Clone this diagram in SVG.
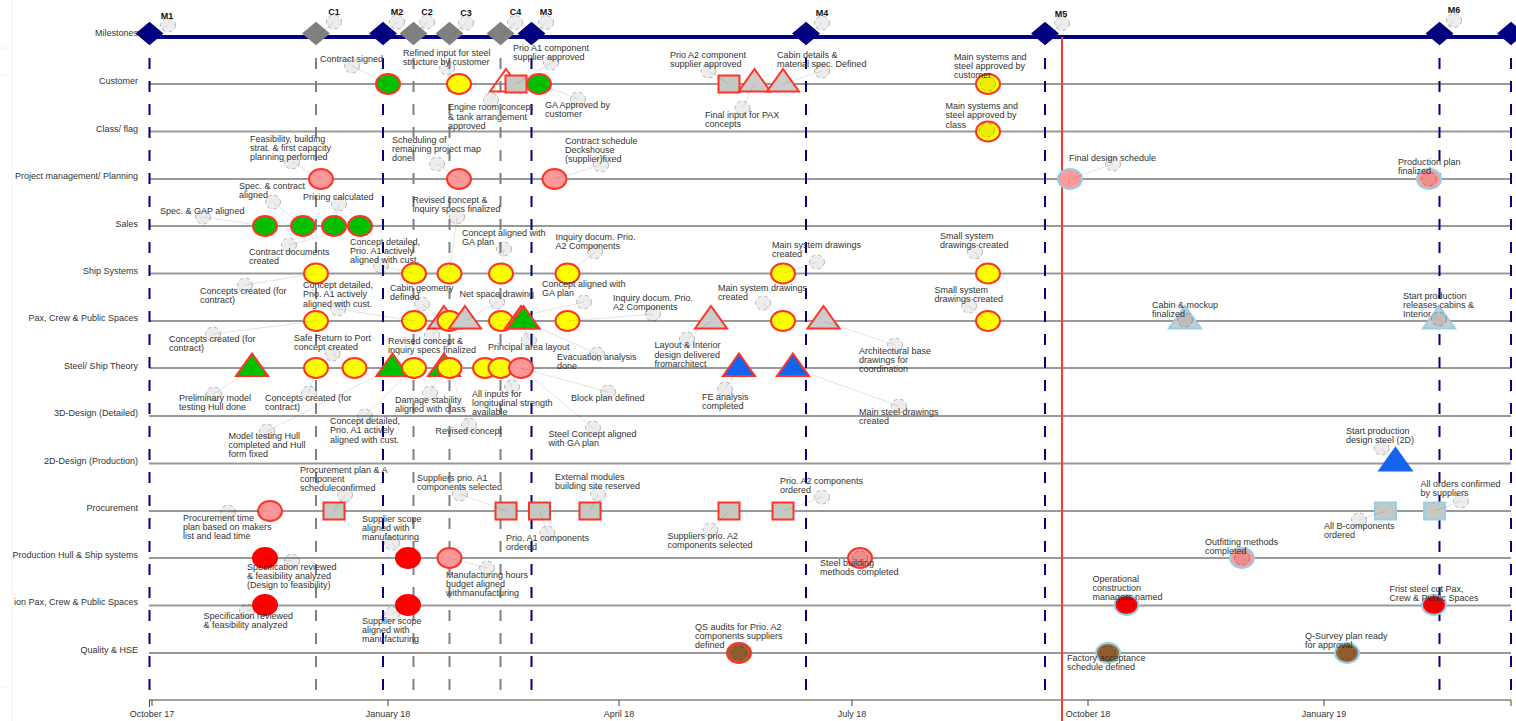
<svg xmlns="http://www.w3.org/2000/svg" width="1516" height="721" viewBox="0 0 1516 721">
<style>
text{font-family:"Liberation Sans",Arial,sans-serif;font-size:9px;fill:#333}
.row{text-anchor:end}
.ms{font-weight:bold;fill:#111;text-anchor:middle}
.ax{text-anchor:middle}
.rl{stroke:#999;stroke-width:2;fill:none}
.vn{stroke:#000080;stroke-width:2;stroke-dasharray:11 12;fill:none}
.vg{stroke:#808080;stroke-width:2;stroke-dasharray:11 12;fill:none}
.ld{stroke:#000;stroke-opacity:.11;stroke-width:1;fill:none}
.co{fill:#000;fill-opacity:.07;stroke:#000;stroke-opacity:.25;stroke-width:1;stroke-dasharray:4 3}
.r{stroke:#ff3328;stroke-width:2}
.b{stroke:#96cfe8;stroke-width:2}
.gr{fill:#00c000}.ye{fill:#ffff00}.pk{fill:#ff9999}.rd{fill:#ff0000}.br{fill:#996633}
.sq{fill:#c5c9c1}.tg{fill:#cccccc}.bl{fill:#1464f0}.no{fill:none}
.dn{fill:#000080}.dg{fill:#808080}
</style>
<defs>
<ellipse id="e" rx="12" ry="10"/>
<rect id="s" x="-10.5" y="-8.5" width="21" height="17"/>
<path id="t" d="M0-15 16 7.5H-16Z"/>
<path id="d" d="M0-11.8 14 0 0 11.8-14 0Z"/>
<ellipse id="c" rx="7.5" ry="7"/>
</defs>

<g id="background-marks" stroke="#f2f2f2" stroke-width="1" fill="none">
<path d="M12 0V721M0 48H7M0 75H7M0 687H7"/>
</g>

<g id="row-labels">
<text class="row" x="138" y="36">Milestones</text>
<text class="row" x="138" y="84">Customer</text>
<text class="row" x="138" y="132">Class/ flag</text>
<text class="row" x="138" y="179">Project management/ Planning</text>
<text class="row" x="138" y="226.500">Sales</text>
<text class="row" x="138" y="274">Ship Systems</text>
<text class="row" x="138" y="321">Pax, Crew &amp; Public Spaces</text>
<text class="row" x="138" y="369">Steel/ Ship Theory</text>
<text class="row" x="138" y="416">3D-Design (Detailed)</text>
<text class="row" x="138" y="464">2D-Design (Production)</text>
<text class="row" x="138" y="511">Procurement</text>
<text class="row" x="138" y="558">Production Hull &amp; Ship systems</text>
<text class="row" x="138" y="605">ion Pax, Crew &amp; Public Spaces</text>
<text class="row" x="138" y="653">Quality &amp; HSE</text>
</g>

<g id="swimlanes">
<path class="rl" d="M149 84H1511M149 131.500H1511M149 179H1511M149 226H1511M149 273.500H1511M149 321H1511M149 368H1511M149 416H1511M149 463.500H1511M149 511H1511M149 558H1511M149 605.500H1511M149 653H1511"/>
</g>

<g id="timeline-axis">
<path d="M149 700H1511M149.500 700V707M152 700V706M388 700V706M619 700V706M852 700V706M1088 700V706M1324 700V706M1511 700V706" stroke="#444" stroke-width="1" fill="none"/>
<text class="ax" x="152" y="717">October 17</text>
<text class="ax" x="388" y="717">January 18</text>
<text class="ax" x="619" y="717">April 18</text>
<text class="ax" x="852" y="717">July 18</text>
<text class="ax" x="1088" y="717">October 18</text>
<text class="ax" x="1324" y="717">January 19</text>
</g>

<g id="milestone-gates">
<path class="vn" d="M149.500 58V700M383 58V700M531.500 58V700M806 58V700M1045 58V700M1439.500 58V700M1511 58V700"/>
<path class="vg" d="M316 58V700M413.500 58V700M449.500 58V700M500.500 58V700"/>
<path d="M149 37H1516" stroke="#000080" stroke-width="4" fill="none"/>
<path d="M1062 37V721" stroke="#ff3b30" stroke-width="2" fill="none"/>
</g>

<g id="nodes">
<g id="m1"><use href="#d" x="149.500" y="33.500" class="dn"/><use href="#c" x="168" y="25" class="co"/><text class="ms" x="167" y="19">M1</text></g>
<g id="c1"><use href="#d" x="316" y="33.500" class="dg"/><use href="#c" x="334" y="22" class="co"/><text class="ms" x="334" y="15">C1</text></g>
<g id="m2"><use href="#d" x="383" y="33.500" class="dn"/><use href="#c" x="397" y="22" class="co"/><text class="ms" x="397" y="15">M2</text></g>
<g id="c2"><use href="#d" x="413.500" y="33.500" class="dg"/><use href="#c" x="427" y="22" class="co"/><text class="ms" x="427" y="15">C2</text></g>
<g id="c3"><use href="#d" x="449.500" y="33.500" class="dg"/><use href="#c" x="466" y="23" class="co"/><text class="ms" x="466" y="16">C3</text></g>
<g id="c4"><use href="#d" x="500.500" y="33.500" class="dg"/><use href="#c" x="515" y="22.500" class="co"/><text class="ms" x="515.500" y="15">C4</text></g>
<g id="m3"><use href="#d" x="531.500" y="33.500" class="dn"/><use href="#c" x="546" y="22.500" class="co"/><text class="ms" x="546" y="15">M3</text></g>
<g id="m4"><use href="#d" x="806" y="33.500" class="dn"/><use href="#c" x="822" y="23" class="co"/><text class="ms" x="822" y="16">M4</text></g>
<g id="m5"><use href="#d" x="1045" y="33.500" class="dn"/><use href="#c" x="1062" y="23.500" class="co"/><text class="ms" x="1061" y="17">M5</text></g>
<g id="m6"><use href="#d" x="1439.500" y="33.500" class="dn"/><use href="#c" x="1454" y="20.500" class="co"/><text class="ms" x="1454" y="13">M6</text></g>
<g id="m7"><use href="#d" x="1511" y="33.500" class="dn"/></g>

<g id="n-contract-signed"><use href="#e" x="388" y="84" class="gr r"/><use href="#c" x="352" y="66" class="co"/><text x="320" y="62">Contract signed</text></g>
<g id="n-refined-input"><use href="#e" x="459" y="84" class="ye r"/><use href="#c" x="447" y="68" class="co"/><text x="403"><tspan x="403" y="56">Refined input for steel</tspan><tspan x="403" y="65">structure by customer</tspan></text></g>
<g id="n-engine-room"><use href="#t" x="506" y="84" class="no r"/><use href="#c" x="491" y="100" class="co"/><text><tspan x="448" y="110">Engine room concept</tspan><tspan x="448" y="119.500">&amp; tank arrangement</tspan><tspan x="448" y="128.500">approved</tspan></text></g>
<g id="n-prio-a1-supplier"><use href="#s" x="516" y="84" class="sq r"/><use href="#c" x="551" y="63" class="co"/><text><tspan x="513" y="51">Prio A1 component</tspan><tspan x="513" y="60">supplier approved</tspan></text></g>
<g id="n-ga-approved"><use href="#e" x="539" y="84" class="gr r"/><use href="#c" x="578" y="99" class="co"/><text><tspan x="545" y="108">GA Approved by</tspan><tspan x="545" y="117">customer</tspan></text></g>
<g id="n-prio-a2-supplier"><use href="#s" x="729" y="84" class="sq r"/><use href="#c" x="708.500" y="71" class="co"/><text><tspan x="670" y="58">Prio A2 component</tspan><tspan x="670" y="67">supplier approved</tspan></text></g>
<g id="n-final-input-pax"><use href="#t" x="754.500" y="84" class="tg r"/><use href="#c" x="742.500" y="108" class="co"/><text><tspan x="705" y="118">Final input for PAX</tspan><tspan x="705" y="127">concepts</tspan></text></g>
<g id="n-cabin-details"><use href="#t" x="783" y="84" class="tg r"/><use href="#c" x="822" y="71" class="co"/><text><tspan x="777" y="58">Cabin details &amp;</tspan><tspan x="777" y="67">material spec. Defined</tspan></text></g>
<g id="n-main-sys-customer"><use href="#e" x="988" y="84" class="ye r"/><use href="#c" x="988" y="84" class="co"/><text><tspan x="954" y="60">Main systems and</tspan><tspan x="954" y="69">steel approved by</tspan><tspan x="954" y="78">customer</tspan></text></g>
<g id="n-main-sys-class"><use href="#e" x="988" y="131.500" class="ye r"/><use href="#c" x="987" y="130" class="co"/><text><tspan x="945.500" y="109">Main systems and</tspan><tspan x="945.500" y="118">steel approved by</tspan><tspan x="945.500" y="127.500">class</tspan></text></g>

<g id="n-feasibility"><use href="#e" x="321" y="179" class="pk r"/><use href="#c" x="292" y="162" class="co"/><text><tspan x="250" y="142">Feasibility, building</tspan><tspan x="250" y="151">strat. &amp; first capacity</tspan><tspan x="250" y="160">planning performed</tspan></text></g>
<g id="n-scheduling"><use href="#e" x="459" y="179" class="pk r"/><use href="#c" x="437" y="164" class="co"/><text><tspan x="392" y="143">Scheduling of</tspan><tspan x="392" y="152">remaining project map</tspan><tspan x="392" y="161">done</tspan></text></g>
<g id="n-contract-schedule"><use href="#e" x="554.500" y="179" class="pk r"/><use href="#c" x="601" y="165" class="co"/><text><tspan x="565" y="144">Contract schedule</tspan><tspan x="565" y="153">Deckshouse</tspan><tspan x="565" y="162">(supplier)fixed</tspan></text></g>
<g id="n-final-design"><use href="#e" x="1070" y="179" class="pk b"/><use href="#c" x="1113" y="164" class="co"/><text x="1069" y="160.500">Final design schedule</text></g>
<g id="n-production-plan"><use href="#e" x="1429" y="179" class="pk b"/><use href="#c" x="1429" y="179" class="co"/><text><tspan x="1398" y="165">Production plan</tspan><tspan x="1398" y="174">finalized</tspan></text></g>

<g id="n-spec-gap"><use href="#e" x="265" y="226" class="gr r"/><use href="#c" x="203" y="217" class="co"/><text x="160" y="214">Spec. &amp; GAP aligned</text></g>
<g id="n-spec-contract"><use href="#e" x="303" y="226" class="gr r"/><use href="#c" x="273" y="202" class="co"/><text><tspan x="239" y="189">Spec. &amp; contract</tspan><tspan x="239" y="198">aligned</tspan></text></g>
<g id="n-pricing"><use href="#e" x="334" y="226" class="gr r"/><use href="#c" x="339" y="204" class="co"/><text x="303" y="199.500">Pricing calculated</text></g>
<g id="n-contract-docs"><use href="#e" x="360" y="226" class="gr r"/><use href="#c" x="289" y="245" class="co"/><text><tspan x="249" y="255">Contract documents</tspan><tspan x="249" y="264">created</tspan></text></g>

<g id="n-ss-concepts"><use href="#e" x="316" y="273.500" class="ye r"/><use href="#c" x="245" y="285" class="co"/><text><tspan x="200" y="294">Concepts created (for</tspan><tspan x="200" y="303">contract)</tspan></text></g>
<g id="n-ss-concept-detailed"><use href="#e" x="414" y="273.500" class="ye r"/><use href="#c" x="381" y="266" class="co"/><text><tspan x="350" y="245">Concept detailed,</tspan><tspan x="350" y="254">Prio. A1 actively</tspan><tspan x="350" y="263">aligned with cust.</tspan></text></g>
<g id="n-ss-revised"><use href="#e" x="449.500" y="273.500" class="ye r"/><use href="#c" x="457" y="217" class="co"/><text><tspan x="412.500" y="203">Revised concept &amp;</tspan><tspan x="412.500" y="212">inquiry specs finalized</tspan></text></g>
<g id="n-ss-ga"><use href="#e" x="501" y="273.500" class="ye r"/><use href="#c" x="504" y="249" class="co"/><text><tspan x="462" y="236">Concept aligned with</tspan><tspan x="462" y="245">GA plan</tspan></text></g>
<g id="n-ss-inquiry"><use href="#e" x="567.500" y="273.500" class="ye r"/><use href="#c" x="595" y="252" class="co"/><text><tspan x="555.500" y="240">Inquiry docum. Prio.</tspan><tspan x="555.500" y="249">A2 Components</tspan></text></g>
<g id="n-ss-main"><use href="#e" x="783" y="273.500" class="ye r"/><use href="#c" x="817" y="262" class="co"/><text><tspan x="772" y="248">Main system drawings</tspan><tspan x="772" y="257">created</tspan></text></g>
<g id="n-ss-small"><use href="#e" x="988" y="273.500" class="ye r"/><use href="#c" x="975" y="252" class="co"/><text><tspan x="940" y="239">Small system</tspan><tspan x="940" y="248">drawings created</tspan></text></g>

<g id="n-px-concepts"><use href="#e" x="316" y="321" class="ye r"/><use href="#c" x="213" y="334" class="co"/><text><tspan x="169" y="342">Concepts created (for</tspan><tspan x="169" y="351">contract)</tspan></text></g>
<g id="n-px-concept-detailed"><use href="#e" x="414" y="321" class="ye r"/><use href="#c" x="338" y="309" class="co"/><text><tspan x="303" y="288">Concept detailed,</tspan><tspan x="303" y="297">Prio. A1 actively</tspan><tspan x="303" y="306.500">aligned with cust.</tspan></text></g>
<g id="n-px-cabin-geometry"><use href="#t" x="444" y="321" class="tg r"/><use href="#c" x="422" y="304" class="co"/><text><tspan x="390" y="291">Cabin geometry</tspan><tspan x="390" y="300">defined</tspan></text></g>
<g id="n-px-revised"><use href="#e" x="449.500" y="321" class="ye r"/><use href="#c" x="432" y="335" class="co"/><text><tspan x="388" y="344">Revised concept &amp;</tspan><tspan x="388" y="353">inquiry specs finalized</tspan></text></g>
<g id="n-px-net-space"><use href="#t" x="465" y="321" class="tg r"/><use href="#c" x="497" y="302" class="co"/><text x="459.500" y="297">Net space drawing</text></g>
<g id="n-px-ga"><use href="#e" x="501" y="321" class="ye r"/><use href="#c" x="584" y="302" class="co"/><text><tspan x="542" y="287">Concept aligned with</tspan><tspan x="542" y="296">GA plan</tspan></text></g>
<g id="n-px-principal"><use href="#t" x="521" y="321" class="tg r"/><use href="#c" x="529" y="340" class="co"/><text x="488" y="350">Principal area layout</text></g>
<g id="n-px-evacuation"><use href="#t" x="523.500" y="321" class="gr r"/><use href="#c" x="597" y="354" class="co"/><text><tspan x="557" y="360">Evacuation analysis</tspan><tspan x="557" y="369">done</tspan></text></g>
<g id="n-px-inquiry"><use href="#e" x="567.500" y="321" class="ye r"/><use href="#c" x="653" y="314" class="co"/><text><tspan x="613" y="301">Inquiry docum. Prio.</tspan><tspan x="613" y="310">A2 Components</tspan></text></g>
<g id="n-px-layout"><use href="#t" x="711" y="321" class="tg r"/><use href="#c" x="687" y="339" class="co"/><text><tspan x="654.500" y="348">Layout &amp; Interior</tspan><tspan x="654.500" y="357.500">design delivered</tspan><tspan x="654.500" y="366.500">fromarchitect</tspan></text></g>
<g id="n-px-main"><use href="#e" x="783" y="321" class="ye r"/><use href="#c" x="763" y="303" class="co"/><text><tspan x="718" y="290.500">Main system drawings</tspan><tspan x="718" y="299.500">created</tspan></text></g>
<g id="n-px-architectural"><use href="#t" x="823.500" y="321" class="tg r"/><use href="#c" x="895" y="345" class="co"/><text><tspan x="859" y="354">Architectural base</tspan><tspan x="859" y="363">drawings for</tspan><tspan x="859" y="372">coordination</tspan></text></g>
<g id="n-px-small"><use href="#e" x="988" y="321" class="ye r"/><use href="#c" x="969" y="306" class="co"/><text><tspan x="934.500" y="293">Small system</tspan><tspan x="934.500" y="302">drawings created</tspan></text></g>
<g id="n-px-cabin-mockup"><use href="#t" x="1185" y="321" class="tg b"/><use href="#c" x="1185" y="320" class="co"/><text><tspan x="1152" y="308">Cabin &amp; mockup</tspan><tspan x="1152" y="317">finalized</tspan></text></g>
<g id="n-px-start-production"><use href="#t" x="1439" y="321" class="tg b"/><use href="#c" x="1439" y="319" class="co"/><text><tspan x="1403" y="299">Start production</tspan><tspan x="1403" y="308">releases cabins &amp;</tspan><tspan x="1403" y="317">Interior</tspan></text></g>

<g id="n-st-prelim"><use href="#t" x="252" y="368.500" class="gr r"/><use href="#c" x="214" y="394" class="co"/><text><tspan x="179" y="401">Preliminary model</tspan><tspan x="179" y="410">testing Hull done</tspan></text></g>
<g id="n-st-concepts"><use href="#e" x="316" y="368" class="ye r"/><use href="#c" x="309" y="393" class="co"/><text><tspan x="265" y="401">Concepts created (for</tspan><tspan x="265" y="410">contract)</tspan></text></g>
<g id="n-st-safe-return"><use href="#e" x="354.500" y="368" class="ye r"/><use href="#c" x="332.500" y="354" class="co"/><text><tspan x="294" y="341">Safe Return to Port</tspan><tspan x="294" y="350">concept created</tspan></text></g>
<g id="n-st-model-testing"><use href="#t" x="392.500" y="368.500" class="gr r"/><use href="#c" x="267" y="431" class="co"/><text><tspan x="228.500" y="439">Model testing Hull</tspan><tspan x="228.500" y="448">completed and Hull</tspan><tspan x="228.500" y="457">form fixed</tspan></text></g>
<g id="n-st-concept-detailed"><use href="#e" x="414" y="368" class="ye r"/><use href="#c" x="365" y="416" class="co"/><text><tspan x="330" y="424">Concept detailed,</tspan><tspan x="330" y="433">Prio. A1 actively</tspan><tspan x="330" y="442.500">aligned with cust.</tspan></text></g>
<g id="n-st-damage"><use href="#t" x="444" y="368.500" class="gr r"/><use href="#c" x="430" y="393" class="co"/><text><tspan x="395" y="403">Damage stability</tspan><tspan x="395" y="412">aligned with class</tspan></text></g>
<g id="n-st-revised"><use href="#e" x="449.500" y="368" class="ye r"/><use href="#c" x="469" y="425" class="co"/><text x="435.500" y="434">Revised concept</text></g>
<g id="n-st-y485"><use href="#e" x="485" y="368" class="ye r"/></g>
<g id="n-st-inputs"><use href="#e" x="500.500" y="368" class="ye r"/><use href="#c" x="512" y="387" class="co"/><text><tspan x="472" y="397">All inputs for</tspan><tspan x="472" y="406">longitudinal strength</tspan><tspan x="472" y="415">available</tspan></text></g>
<g id="n-st-block"><use href="#e" x="521" y="368" class="pk r"/><use href="#c" x="608" y="392" class="co"/><text x="571" y="401">Block plan defined</text></g>
<g id="n-st-steel-concept"><use href="#c" x="593" y="428" class="co"/><text><tspan x="548.500" y="437">Steel Concept aligned</tspan><tspan x="548.500" y="446">with GA plan</tspan></text></g>
<g id="n-st-fe"><use href="#t" x="739" y="368.500" class="bl r"/><use href="#c" x="725" y="389" class="co"/><text><tspan x="702" y="400">FE analysis</tspan><tspan x="702" y="409">completed</tspan></text></g>
<g id="n-st-main-steel"><use href="#t" x="793" y="368.500" class="bl r"/><use href="#c" x="899" y="406" class="co"/><text><tspan x="859" y="415">Main steel drawings</tspan><tspan x="859" y="424">created</tspan></text></g>

<g id="n-2d-start"><use href="#t" x="1395.500" y="463" class="bl" stroke="#1464f0" stroke-width="2"/><use href="#c" x="1381.500" y="448" class="co"/><text><tspan x="1346" y="434">Start production</tspan><tspan x="1346" y="443">design steel (2D)</tspan></text></g>

<g id="n-pr-time"><use href="#e" x="270" y="511" class="pk r"/><use href="#c" x="228" y="512" class="co"/><text><tspan x="183" y="521">Procurement time</tspan><tspan x="183" y="530">plan based on makers</tspan><tspan x="183" y="539">list and lead time</tspan></text></g>
<g id="n-pr-plan"><use href="#s" x="334" y="511" class="sq r"/><use href="#c" x="345" y="495" class="co"/><text><tspan x="300" y="473">Procurement plan &amp; A</tspan><tspan x="300" y="482">component</tspan><tspan x="300" y="491">scheduleconfirmed</tspan></text></g>
<g id="n-pr-suppliers-a1"><use href="#s" x="506" y="511" class="sq r"/><use href="#c" x="460" y="494" class="co"/><text><tspan x="417" y="481">Suppliers prio. A1</tspan><tspan x="417" y="490">components selected</tspan></text></g>
<g id="n-pr-a1-ordered"><use href="#s" x="539.500" y="511" class="sq r"/><use href="#c" x="547.500" y="533" class="co"/><text><tspan x="506" y="541">Prio. A1 components</tspan><tspan x="506" y="550">ordered</tspan></text></g>
<g id="n-pr-external"><use href="#s" x="590" y="511" class="sq r"/><use href="#c" x="598" y="494" class="co"/><text><tspan x="555" y="480">External modules</tspan><tspan x="555" y="489">building site reserved</tspan></text></g>
<g id="n-pr-suppliers-a2"><use href="#s" x="729" y="511" class="sq r"/><use href="#c" x="710.500" y="530" class="co"/><text><tspan x="667.500" y="539">Suppliers prio. A2</tspan><tspan x="667.500" y="548">components selected</tspan></text></g>
<g id="n-pr-a2-ordered"><use href="#s" x="783" y="511" class="sq r"/><use href="#c" x="822" y="497" class="co"/><text><tspan x="780" y="484">Prio. A2 components</tspan><tspan x="780" y="493">ordered</tspan></text></g>
<g id="n-pr-b-comp"><use href="#s" x="1385.500" y="511" class="sq b"/><use href="#c" x="1359" y="520" class="co"/><text><tspan x="1324" y="529">All B-components</tspan><tspan x="1324" y="538">ordered</tspan></text></g>
<g id="n-pr-all-orders"><use href="#s" x="1434.500" y="511" class="sq b"/><use href="#c" x="1461" y="501" class="co"/><text><tspan x="1420.500" y="487">All orders confirmed</tspan><tspan x="1420.500" y="496">by suppliers</tspan></text></g>

<g id="n-ph-spec"><use href="#e" x="265" y="558" class="rd" stroke="#ff0000" stroke-width="2"/><use href="#c" x="292" y="561" class="co"/><text><tspan x="247" y="570">Specification reviewed</tspan><tspan x="247" y="579">&amp; feasibility analyzed</tspan><tspan x="247" y="588">(Design to feasibility)</tspan></text></g>
<g id="n-ph-supplier"><use href="#c" x="392" y="543" class="co"/><use href="#e" x="408" y="558" class="rd" stroke="#ff0000" stroke-width="2"/><text><tspan x="362" y="522">Supplier scope</tspan><tspan x="362" y="531">aligned with</tspan><tspan x="362" y="540">manufacturing</tspan></text></g>
<g id="n-ph-hours"><use href="#e" x="449.500" y="558" class="pk r"/><use href="#c" x="487" y="568" class="co"/><text><tspan x="446" y="578">Manufacturing hours</tspan><tspan x="446" y="587">budget aligned</tspan><tspan x="446" y="596">withmanufacturing</tspan></text></g>
<g id="n-ph-steel"><use href="#e" x="860" y="558" class="pk r"/><use href="#c" x="860" y="558" class="co"/><text><tspan x="820" y="566">Steel building</tspan><tspan x="820" y="575">methods completed</tspan></text></g>
<g id="n-ph-outfitting"><use href="#e" x="1242" y="558" class="pk b"/><use href="#c" x="1242" y="558" class="co"/><text><tspan x="1205" y="545">Outfitting methods</tspan><tspan x="1205" y="554">completed</tspan></text></g>

<g id="n-pp-spec"><use href="#c" x="247" y="611" class="co"/><use href="#e" x="265" y="605" class="rd" stroke="#ff0000" stroke-width="2"/><text><tspan x="203.500" y="619">Specification reviewed</tspan><tspan x="203.500" y="628">&amp; feasibility analyzed</tspan></text></g>
<g id="n-pp-supplier"><use href="#e" x="408" y="605" class="rd" stroke="#ff0000" stroke-width="2"/><use href="#c" x="392" y="614" class="co"/><text><tspan x="362" y="624">Supplier scope</tspan><tspan x="362" y="633">aligned with</tspan><tspan x="362" y="642">manufacturing</tspan></text></g>
<g id="n-pp-operational"><use href="#e" x="1126.500" y="605" class="rd b"/><use href="#c" x="1126.500" y="605" class="co"/><text><tspan x="1092.500" y="582">Operational</tspan><tspan x="1092.500" y="591">construction</tspan><tspan x="1092.500" y="600">managers named</tspan></text></g>
<g id="n-pp-first-steel"><use href="#e" x="1434" y="605" class="rd b"/><use href="#c" x="1434" y="605" class="co"/><text><tspan x="1389.500" y="592">Frist steel cut Pax,</tspan><tspan x="1389.500" y="601">Crew &amp; Public Spaces</tspan></text></g>

<g id="n-qa-audits"><use href="#e" x="739" y="653" class="br r"/><use href="#c" x="739" y="653" class="co"/><text><tspan x="695" y="630">QS audits for Prio. A2</tspan><tspan x="695" y="639">components suppliers</tspan><tspan x="695" y="648">defined</tspan></text></g>
<g id="n-qa-factory"><use href="#e" x="1108" y="653" class="br b"/><use href="#c" x="1108" y="653" class="co"/><text><tspan x="1067" y="661">Factory acceptance</tspan><tspan x="1067" y="670">schedule defined</tspan></text></g>
<g id="n-qa-survey"><use href="#e" x="1347" y="653" class="br b"/><use href="#c" x="1347" y="653" class="co"/><text><tspan x="1305" y="639">Q-Survey plan ready</tspan><tspan x="1305" y="648">for approval</tspan></text></g>
</g>

<g id="connectors" class="ld">
<path d="M149.500 37 168 25M316 37 334 22M383 37 397 22M413.500 37 427 22M449.500 37 466 23M500.500 37 515 22.500M531.500 37 546 22.500M806 37 822 23M1045 37 1062 23.500M1439.500 37 1454 20.500"/>
<path d="M388 84 352 66M459 84 447 68M506 84 491 100M516 84 551 63M539 84 578 99M729 84 708.500 71M754.500 84 742.500 108M783 84 822 71"/>
<path d="M321 179 292 162M459 179 437 164M554.500 179 601 165M1070 179 1113 164"/>
<path d="M265 226 203 217M303 226 273 202M334 226 339 204M360 226 289 245"/>
<path d="M316 273.500 245 285M414 273.500 381 266M449.500 273.500 457 217M501 273.500 504 249M567.500 273.500 595 252M783 273.500 817 262M988 273.500 975 252"/>
<path d="M316 321 213 334M414 321 338 309M444 321 422 304M449.500 321 432 335M465 321 497 302M501 321 584 302M521 321 529 340M523.500 321 597 354M567.500 321 653 314M711 321 687 339M783 321 763 303M823.500 321 895 345M988 321 969 306"/>
<path d="M252 368 214 394M316 368 309 393M354.500 368 332.500 354M392.500 368 267 431M414 368 365 416M444 368 430 393M449.500 368 469 425M500.500 368 512 387M521 368 608 392M521 368 593 428M739 368 725 389M793 368 899 406"/>
<path d="M1395.500 463 1381.500 448M270 511 228 512M334 511 345 495M506 511 460 494M539.500 511 547.500 533M590 511 598 494M729 511 710.500 530M783 511 822 497M1385.500 511 1359 520M1434.500 511 1461 501"/>
<path d="M265 558 292 561M408 558 392 543M449.500 558 487 568M265 605 247 611M408 605 392 614"/>
</g>
</svg>
